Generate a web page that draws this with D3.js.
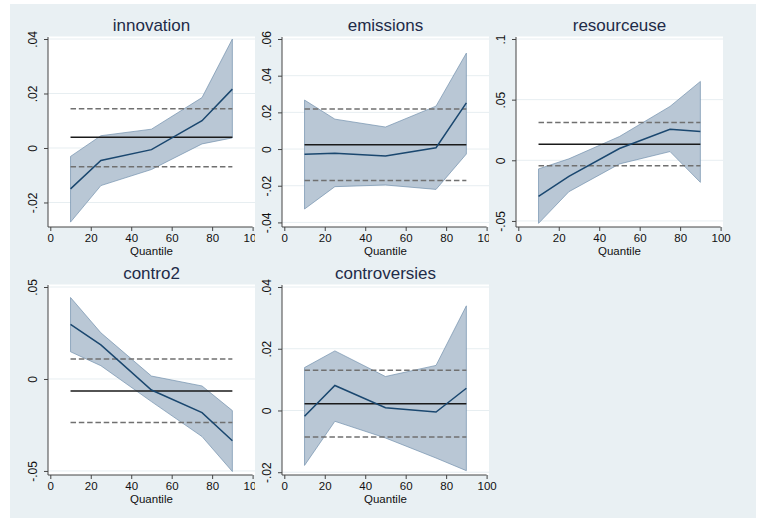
<!DOCTYPE html>
<html>
<head>
<meta charset="utf-8">
<script src="https://cdn.jsdelivr.net/npm/d3@7"></script>
<style>
  body { margin: 0; background: #fff; }
  text { font-family: "Liberation Sans", Arial, sans-serif; }
</style>
</head>
<body>
<div id="chart"></div>
<script>
// quantiles estimated
const quantiles = [10, 25, 50, 75, 90];
const xTicks = [0, 20, 40, 60, 80, 100];

// coefficient, upper and lower bound at each quantile; ols = [estimate, lower, upper]
const innovationCoef = [-0.0150, -0.0046, -0.0006, 0.0100, 0.0216];
const innovationHi = [-0.0031, 0.0045, 0.0069, 0.0185, 0.0400];
const innovationLo = [-0.0272, -0.0138, -0.0079, 0.0015, 0.0037];
const innovationOls = [0.0039, -0.0069, 0.0144];

const emissionsCoef = [-0.0029, -0.0023, -0.0038, 0.0007, 0.0252];
const emissionsHi = [0.0267, 0.0163, 0.0120, 0.0234, 0.0523];
const emissionsLo = [-0.0327, -0.0205, -0.0196, -0.0220, -0.0027];
const emissionsOls = [0.0024, -0.0171, 0.0218];

const resourceuseCoef = [-0.0298, -0.0132, 0.0097, 0.0256, 0.0237];
const resourceuseHi = [-0.0071, 0.0012, 0.0196, 0.0444, 0.0650];
const resourceuseLo = [-0.0520, -0.0259, -0.0030, 0.0072, -0.0182];
const resourceuseOls = [0.0132, -0.0046, 0.0312];

const contro2Coef = [0.0297, 0.0185, -0.0060, -0.0183, -0.0336];
const contro2Hi = [0.0443, 0.0251, 0.0016, -0.0038, -0.0172];
const contro2Lo = [0.0148, 0.0072, -0.0123, -0.0313, -0.0503];
const contro2Ols = [-0.0065, -0.0237, 0.0108];

const controversiesCoef = [-0.0019, 0.0081, 0.0009, -0.0005, 0.0072];
const controversiesHi = [0.0139, 0.0193, 0.0110, 0.0146, 0.0339];
const controversiesLo = [-0.0178, -0.0035, -0.0089, -0.0154, -0.0195];
const controversiesOls = [0.0022, -0.0086, 0.0130];

// y axis ranges and ticks
const innovationY = [-0.029, 0.04];
const emissionsY = [-0.0425, 0.06];
const resourceuseY = [-0.055, 0.1];
const contro2Y = [-0.0522, 0.05];
const controversiesY = [-0.0209, 0.04];

const innovationTicks = [-0.02, 0, 0.02, 0.04];
const emissionsTicks = [-0.04, -0.02, 0, 0.02, 0.04, 0.06];
const resourceuseTicks = [-0.05, 0, 0.05, 0.1];
const contro2Ticks = [-0.05, 0, 0.05];
const controversiesTicks = [-0.02, 0, 0.02, 0.04];

const panels = [
  { title: 'innovation', coef: innovationCoef, hi: innovationHi, lo: innovationLo, ols: innovationOls, y: innovationY, ticks: innovationTicks },
  { title: 'emissions', coef: emissionsCoef, hi: emissionsHi, lo: emissionsLo, ols: emissionsOls, y: emissionsY, ticks: emissionsTicks },
  { title: 'resourceuse', coef: resourceuseCoef, hi: resourceuseHi, lo: resourceuseLo, ols: resourceuseOls, y: resourceuseY, ticks: resourceuseTicks },
  { title: 'contro2', coef: contro2Coef, hi: contro2Hi, lo: contro2Lo, ols: contro2Ols, y: contro2Y, ticks: contro2Ticks },
  { title: 'controversies', coef: controversiesCoef, hi: controversiesHi, lo: controversiesLo, ols: controversiesOls, y: controversiesY, ticks: controversiesTicks }
];

// stata style labels: .02, -.05, 0
const fmt = v => {
  if (v === 0) return '0';
  let s = String(+v.toFixed(3));
  return s.replace(/^(-?)0\./, '$1.');
};

const bg = '#e9f0f3';
const svg = d3.create('svg')
  .attr('width', 768)
  .attr('height', 531);

svg.append('rect').attr('width', 768).attr('height', 531).attr('fill', '#fff');
svg.append('rect')
  .attr('x', 10).attr('y', 4)
  .attr('width', 746).attr('height', 514)
  .attr('fill', bg);

const cellW = 234;
const colLeft = [21, 255, 489];
const rowTop = [39, 287];   // top tick position
const plotH = 188;

panels.forEach((p, i) => {
  const col = i % 3, row = Math.floor(i / 3);
  const left = colLeft[col] + 27;
  const right = colLeft[col] + cellW;
  const top = rowTop[row];
  const bottom = top + plotH;

  const g = svg.append('g');

  // cell background hides the previous panel's overflow
  g.append('rect')
    .attr('x', colLeft[col]).attr('y', row === 0 ? 4 : 258)
    .attr('width', cellW).attr('height', row === 0 ? 254 : 260)
    .attr('fill', bg);

  g.append('rect')
    .attr('x', left).attr('y', top - 2.5)
    .attr('width', right - left).attr('height', bottom - top + 2.5)
    .attr('fill', '#fff');

  const x = d3.scaleLinear().domain([0, 100]).range([left + 2.3, left + 204.6]);
  const y = d3.scaleLinear().domain(p.y).range([bottom, top]);

  // grid
  g.selectAll('.grid')
    .data(p.ticks)
    .enter()
    .append('line')
      .attr('x1', left).attr('x2', right)
      .attr('y1', d => y(d)).attr('y2', d => y(d))
      .attr('stroke', '#e7eef1')
      .attr('stroke-width', 1);

  const rows = quantiles.map((q, k) => ({ q, c: p.coef[k], hi: p.hi[k], lo: p.lo[k] }));

  g.append('path')
    .datum(rows)
    .attr('d', d3.area().x(d => x(d.q)).y0(d => y(d.lo)).y1(d => y(d.hi)))
    .attr('fill', '#b9c7d5')
    .attr('stroke', '#7391ae')
    .attr('stroke-width', 0.7);

  const qs = [quantiles[0], quantiles[quantiles.length - 1]];
  // OLS estimate and CI
  g.append('line')
    .attr('x1', x(qs[0])).attr('x2', x(qs[1]))
    .attr('y1', y(p.ols[0])).attr('y2', y(p.ols[0]))
    .attr('stroke', '#1a1a1a').attr('stroke-width', 1.5);
  [p.ols[1], p.ols[2]].forEach(v => {
    g.append('line')
      .attr('x1', x(qs[0])).attr('x2', x(qs[1]))
      .attr('y1', y(v)).attr('y2', y(v))
      .attr('stroke', '#707070').attr('stroke-width', 1.5)
      .attr('stroke-dasharray', '5.5,2.8');
  });

  g.append('path')
    .datum(rows)
    .attr('d', d3.line().x(d => x(d.q)).y(d => y(d.c)))
    .attr('fill', 'none')
    .attr('stroke', '#1a476f')
    .attr('stroke-width', 1.5);

  // axes
  const yAxis = g.append('g')
    .attr('transform', `translate(${left},0)`)
    .call(d3.axisLeft(y).tickValues(p.ticks).tickFormat(fmt).tickSize(4).tickSizeOuter(0));
  yAxis.select('.domain').remove();
  yAxis.append('line')
    .attr('x1', 0).attr('x2', 0)
    .attr('y1', top - 2).attr('y2', bottom)
    .attr('stroke', '#444');
  yAxis.selectAll('.tick line').attr('stroke', '#444');
  yAxis.selectAll('.tick text')
    .attr('transform', 'rotate(-90)')
    .attr('x', 0).attr('y', -11).attr('dy', 0)
    .attr('text-anchor', 'middle')
    .attr('font-size', 12)
    .attr('font-family', '"Liberation Sans", Arial, sans-serif')
    .attr('fill', '#111');

  const xAxis = g.append('g')
    .attr('transform', `translate(0,${bottom})`)
    .call(d3.axisBottom(x).tickValues(xTicks).tickFormat(d3.format('d')).tickSize(4).tickSizeOuter(0));
  xAxis.select('.domain').remove();
  xAxis.append('line')
    .attr('x1', left).attr('x2', x(100))
    .attr('stroke', '#444');
  xAxis.selectAll('.tick line').attr('stroke', '#444');
  xAxis.selectAll('.tick text')
    .attr('y', 15).attr('dy', 0)
    .attr('font-size', 11.5)
    .attr('font-family', '"Liberation Sans", Arial, sans-serif')
    .attr('fill', '#111');

  g.append('text')
    .attr('x', (x(0) + x(100)) / 2)
    .attr('y', bottom + 28)
    .attr('text-anchor', 'middle')
    .attr('font-size', 11.5)
    .attr('fill', '#111')
    .text('Quantile');

  g.append('text')
    .attr('x', (left + right) / 2)
    .attr('y', top - 8.5)
    .attr('text-anchor', 'middle')
    .attr('font-size', 17)
    .attr('fill', '#1e2b48')
    .text(p.title);
});

d3.select('#chart')
  .node()
  .appendChild(svg.node());
</script>
</body>
</html>
